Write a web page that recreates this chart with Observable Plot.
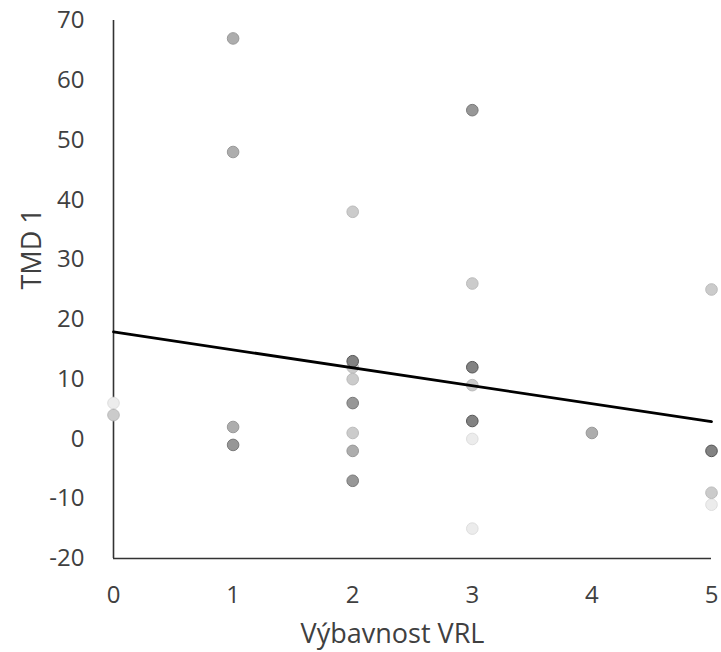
<!DOCTYPE html>
<html>
<head>
<meta charset="utf-8">
<script src="https://cdn.jsdelivr.net/npm/d3@7"></script>
<script src="https://cdn.jsdelivr.net/npm/@observablehq/plot@0.6"></script>
<style>
  html, body { margin: 0; padding: 0; background: #fff; }
  #chart svg { display: block; }
</style>
</head>
<body>
<div id="chart"></div>
<script>
const xs     = [0, 0, 1, 1, 1, 1, 2, 2, 2, 2, 2, 2, 2, 2, 3, 3, 3, 3, 3, 3, 3, 4, 5, 5, 5, 5];
const ys     = [6, 4, 67, 48, 2, -1, 38, 12, 13, 10, 6, 1, -2, -7, 55, 26, 12, 9, 3, 0, -15, 1, 25, -2, -9, -11];
// overlap level (darkness of marker in the reference, 1 = lightest)
const levels = [1, 2, 3, 3, 3, 4, 2, 2, 5, 2, 4, 2, 3, 4, 4, 2, 5, 2, 5, 1, 1, 3, 2, 5, 2, 1];

// Linear trend line end points
const trendX = [0, 5];
const trendY = [17.9, 2.9];

const xTicks = [0, 1, 2, 3, 4, 5];
const yTicks = [-20, -10, 0, 10, 20, 30, 40, 50, 60, 70];

const points = xs.map((x, i) => ({x, y: ys[i], level: levels[i]}))
  .sort((a, b) => a.level - b.level);
const trend = trendX.map((x, i) => ({x, y: trendY[i]}));

const fillFor   = d3.scaleOrdinal([1, 2, 3, 4, 5], ["#ececec", "#cbcbcb", "#adadad", "#979797", "#828282"]);
const strokeFor = d3.scaleOrdinal([1, 2, 3, 4, 5], ["#dedede", "#bbbbbb", "#999999", "#7a7a7a", "#555555"]);

const chart = Plot.plot({
  width: 721,
  height: 652,
  marginLeft: 113,
  marginRight: 10,
  marginTop: 20,
  marginBottom: 94,
  style: {fontFamily: "'Open Sans', sans-serif", fontSize: "24px", color: "#404040", background: "#fff", overflow: "visible"},
  x: {domain: [0, 5], label: null},
  y: {domain: [-20, 70], label: null},
  marks: [
    Plot.axisX({ticks: xTicks, tickFormat: d => String(d), tickSize: 0, tickPadding: 27, label: null, fontSize: 24, lineAnchor: "top"}),
    Plot.axisY({ticks: yTicks, tickFormat: d => String(d), tickSize: 0, tickPadding: 29, label: null, fontSize: 24}),
    Plot.ruleX([0], {stroke: "#333", strokeWidth: 1.6}),
    Plot.ruleY([-20], {stroke: "#333", strokeWidth: 1.6}),
    Plot.dot(points, {
      x: "x", y: "y", r: 5.8,
      fill: d => fillFor(d.level),
      stroke: d => strokeFor(d.level),
      strokeWidth: 1
    }),
    Plot.line(trend, {x: "x", y: "y", stroke: "#000", strokeWidth: 2.8}),
    Plot.text(["Výbavnost VRL"], {frameAnchor: "bottom", lineAnchor: "middle", dx: -20, dy: 76, fontSize: 27, fill: "#404040"}),
    Plot.text(["TMD 1"], {frameAnchor: "left", lineAnchor: "middle", dx: -81, dy: 0, rotate: -90, fontSize: 27, fill: "#404040"})
  ]
});
document.getElementById("chart").append(chart);
</script>
</body>
</html>
